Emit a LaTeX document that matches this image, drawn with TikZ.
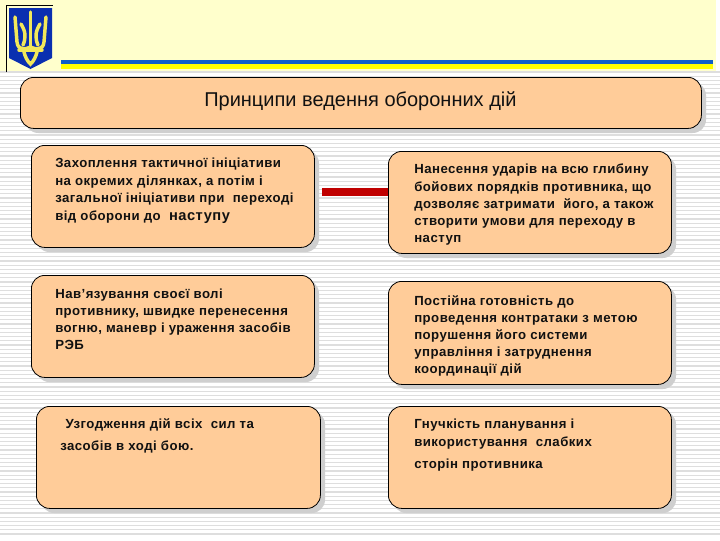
\documentclass[tikz,border=0pt]{standalone}
\usepackage{fontspec}
\setmainfont{Liberation Sans}
\newfontfamily\bodyfont[LetterSpace=3.5]{Liberation Sans Bold}
\begin{document}
\begin{tikzpicture}[x=0.75pt,y=-0.75pt,
  box/.style={draw=black,line width=0.6pt,fill=boxfill,rounded corners=10pt,anchor=north west,inner sep=0pt},
  bodytext/.style={anchor=north west,align=left,inner sep=0pt,font=\bodyfont\fontsize{9.9pt}{12.9pt}\selectfont,text=textcol},
  conn/.style={draw=connred,line width=6pt}]
\definecolor{boxfill}{HTML}{FFCC99}
\definecolor{shadowgrey}{HTML}{CFCFCF}
\definecolor{stripe}{HTML}{DEDEDE}
\definecolor{topyellow}{HTML}{FFFFCC}
\definecolor{barblue}{HTML}{0F5FC8}
\definecolor{baryellow}{HTML}{FFFF00}
\definecolor{connred}{HTML}{C00000}
\definecolor{textcol}{HTML}{111111}
\definecolor{shieldblue}{HTML}{0A2FB0}
\definecolor{tridentyellow}{HTML}{F2E85A}
\useasboundingbox (0,0) rectangle (720,540);
\fill[white] (0,0) rectangle (720,540);
% stripes
\foreach \yy in {72,76.2,...,538} {\draw[stripe,line width=0.9pt] (0,\yy) -- (720,\yy);}
% header
\fill[topyellow] (0,0) rectangle (716,71);
\fill[barblue] (61,60) rectangle (713,64);
\fill[baryellow] (61,64) rectangle (713,68.5);
% emblem
\draw[black,line width=0.7pt] (6.5,72) -- (6.5,5.5) -- (53,5.5);
\fill[shieldblue] (9,8) -- (52,8) -- (52,58) -- (30.5,69) -- (9,58) -- cycle;
\begin{scope}[draw=tridentyellow,line width=2.6pt,line cap=round]
  \draw (30.5,12) -- (30.5,50);
  \draw (15,17) -- (17,42) .. controls (18,50) and (24,50) .. (30.5,47);
  \draw (46,17) -- (44,42) .. controls (43,50) and (37,50) .. (30.5,47);
  \draw (21,24) .. controls (26,32) and (26,38) .. (23,45);
  \draw (40,24) .. controls (35,32) and (35,38) .. (38,45);
  \draw (19,50) -- (42,50);
  \draw (24,52) .. controls (25,56) and (27,61) .. (30.5,64) .. controls (34,61) and (36,56) .. (37,52);
\end{scope}
% shadows
\foreach \a/\b/\c/\d in {20/77/701/128,31/145/314/247,388/151/671/253,31/275/314/377,388/281/671/384,36/406/320/508,388/406/671/508}
  {\fill[shadowgrey,rounded corners=10pt] (\a+5,\b+5) rectangle (\c+5,\d+5);}
% boxes
\node[box,minimum width=510.75pt,minimum height=38.25pt] (title) at (20,77) {};
\node[box,minimum width=212.25pt,minimum height=76.5pt] (l1) at (31,145) {};
\node[box,minimum width=212.25pt,minimum height=76.5pt] (r1) at (388,151) {};
\node[box,minimum width=212.25pt,minimum height=76.5pt] (l2) at (31,275) {};
\node[box,minimum width=212.25pt,minimum height=77.25pt] (r2) at (388,281) {};
\node[box,minimum width=213pt,minimum height=76.5pt] (l3) at (36,406) {};
\node[box,minimum width=212.25pt,minimum height=76.5pt] (r3) at (388,406) {};
% connector
\draw[conn] ([xshift=5.25pt,yshift=3pt]l1.east) -- ([yshift=7.5pt]r1.west);
% text
\node[anchor=base west,inner sep=0pt,font=\fontsize{15pt}{18pt}\selectfont,text=textcol] (titletext) at (204,106) {Принципи ведення оборонних дій};
\node[bodytext] (tl1) at (55,158) {Захоплення тактичної ініціативи\\на окремих ділянках, а потім і\\загальної ініціативи при\ \ переході\\[0.6pt]від оборони до\ \ {\fontsize{11pt}{12pt}\selectfont наступу}};
\node[bodytext] (tr1) at (414,164) {Нанесення ударів на всю глибину\\бойових порядків противника, що\\дозволяє затримати\ \ його, а також\\створити умови для переходу в\\наступ};
\node[bodytext] (tl2) at (55,288.5) {Нав’язування своєї волі\\противнику, швидке перенесення\\вогню, маневр і ураження засобів\\РЭБ};
\node[bodytext] (tr2) at (414,295) {Постійна готовність до\\проведення контратаки з метою\\порушення його системи\\управління і затруднення\\координації дій};
\node[bodytext,font=\bodyfont\fontsize{9.9pt}{16.5pt}\selectfont] (tl3) at (60,418.5) {\hspace*{4pt}Узгодження дій всіх\ \ сил та\\засобів в ході бою.};
\node[bodytext,font=\bodyfont\fontsize{9.9pt}{16.5pt}\selectfont] (tr3) at (414,419) {Гнучкість планування і\\[-3pt]використування\ \ слабких\\сторін противника};
\end{tikzpicture}
\end{document}
